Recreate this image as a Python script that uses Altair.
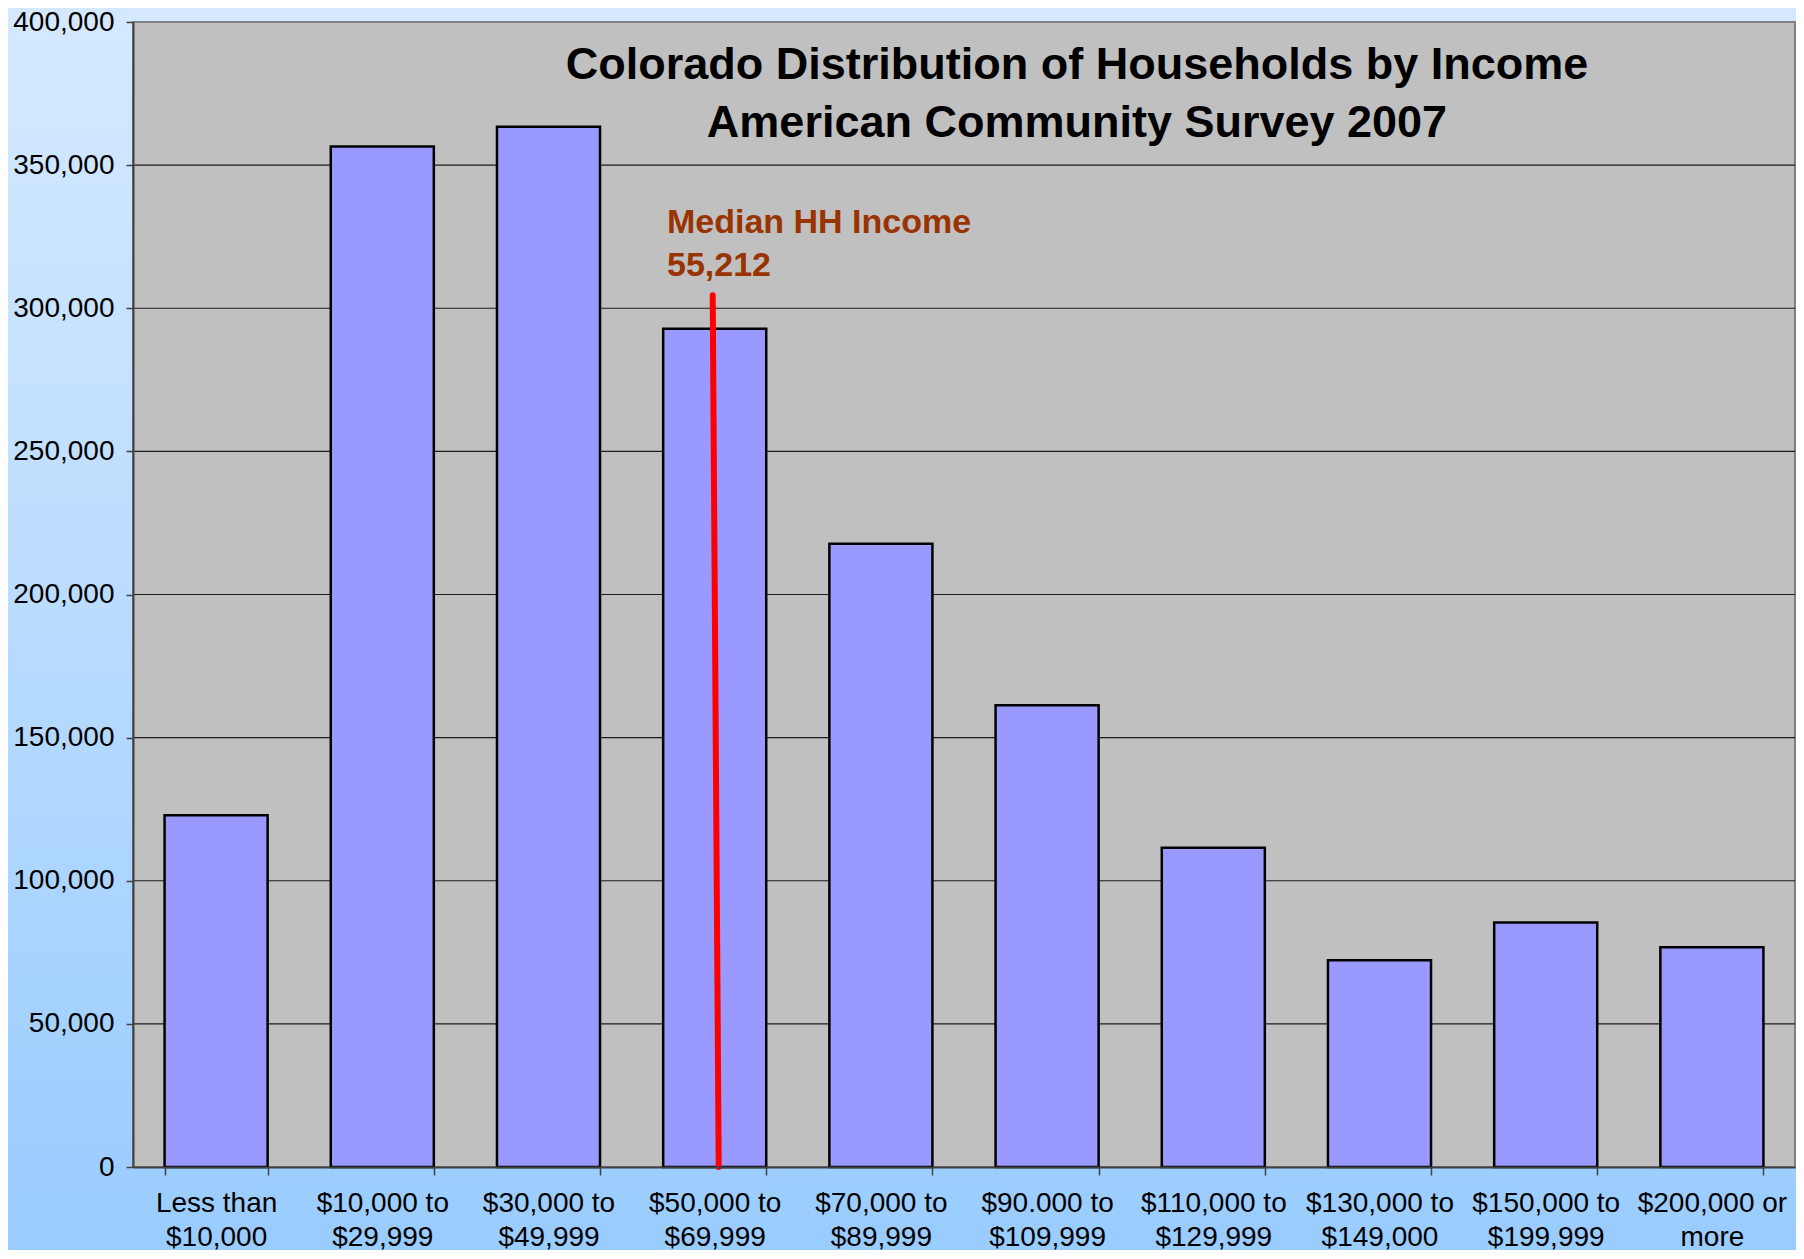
import altair as alt
import pandas as pd

# ---------------- data ----------------
LINE1 = ["Less than", "$10,000 to", "$30,000 to", "$50,000 to", "$70,000 to",
         "$90.000 to", "$110,000 to", "$130,000 to", "$150,000 to", "$200,000 or"]
LINE2 = ["$10,000", "$29,999", "$49,999", "$69,999", "$89,999",
         "$109,999", "$129,999", "$149,000", "$199,999", "more"]
HOUSEHOLDS = [122900, 356500, 363400, 292800, 217700, 161300, 111500, 72200, 85400, 76800]
Y_TICKS = [0, 50000, 100000, 150000, 200000, 250000, 300000, 350000, 400000]
GRID_LINES = [50000, 100000, 150000, 200000, 250000, 300000, 350000]
MEDIAN_INCOME = 55212
MEDIAN_BRACKET = 3          # index of the bracket containing the median
MEDIAN_LINE_TOP = 304500    # household-count height where the marker line stops
TITLE_LINES = ["Colorado Distribution of Households by Income",
               "American Community Survey 2007"]
MEDIAN_LABEL = ["Median HH Income", f"{MEDIAN_INCOME:,}"]

CATS = [a + "\n" + b for a, b in zip(LINE1, LINE2)]

bars_df = pd.DataFrame({"bracket": CATS, "households": HOUSEHOLDS})
grid_df = pd.DataFrame({"v": GRID_LINES})
median_df = pd.DataFrame({"bracket": [CATS[MEDIAN_BRACKET]],
                          "top": [MEDIAN_LINE_TOP], "bottom": [0]})
one_df = pd.DataFrame({"a": [1]})

# ---------------- layout ----------------
W, H = 1662, 1145
PAD = {"left": 125, "top": 14, "right": 1, "bottom": 83}
FONT = "Liberation Sans"

xscale = alt.Scale(domain=CATS, paddingInner=0.38, paddingOuter=0.19)
yscale = alt.Scale(domain=[0, 400000], nice=False)

x_axis = alt.Axis(
    title=None, labelAngle=0, labelExpr="split(datum.label, '\\n')",
    tickBand="extent", tickSize=8, tickColor="#404040", tickWidth=1.5,
    domainColor="#404040", domainWidth=2, grid=False,
    labelFont=FONT, labelFontSize=28, labelColor="black",
    labelLineHeight=34, labelPadding=14, labelOverlap=False, labelLimit=400,
    zindex=1,
)
y_axis = alt.Axis(
    title=None, values=Y_TICKS, labelExpr="format(datum.value, ',')", grid=False,
    tickSize=7, tickColor="#404040", tickWidth=1.5,
    domainColor="#404040", domainWidth=2,
    labelFont=FONT, labelFontSize=28, labelColor="black", labelPadding=12,
    labelOverlap=False, zindex=1,
)

# page background gradient
background = alt.Chart(one_df).mark_rect(
    fill=alt.Gradient(
        gradient="linear",
        stops=[alt.GradientStop(color="#d4e9ff", offset=0),
               alt.GradientStop(color="#c2e0ff", offset=0.35),
               alt.GradientStop(color="#99ccff", offset=1)],
        x1=0, x2=0, y1=0, y2=1,
    ),
    strokeWidth=0,
).encode(
    x=alt.value(-PAD["left"]), x2=alt.value(W + PAD["right"]),
    y=alt.value(-PAD["top"]), y2=alt.value(H + PAD["bottom"]),
)

# plot area
plot_area = alt.Chart(one_df).mark_rect(
    fill="#c0c0c0", stroke="#808080", strokeWidth=2
).encode(x=alt.value(0), x2=alt.value(W), y=alt.value(0), y2=alt.value(H))

grid = alt.Chart(grid_df).mark_rule(color="#000000", strokeWidth=1.2, opacity=0.85).encode(
    y=alt.Y("v:Q", scale=yscale, axis=y_axis)
)

bars = alt.Chart(bars_df).mark_bar(
    color="#9999ff", stroke="#000000", strokeWidth=2.5
).encode(
    x=alt.X("bracket:N", scale=xscale, sort=CATS, axis=x_axis),
    y=alt.Y("households:Q", scale=yscale, axis=y_axis),
)

median_line = alt.Chart(median_df).mark_rule(
    color="#ff0000", strokeWidth=6, strokeCap="round", xOffset=-2, x2Offset=4
).encode(
    x=alt.X("bracket:N", scale=xscale, sort=CATS, axis=x_axis),
    x2="bracket:N",
    y=alt.Y("top:Q", scale=yscale, axis=y_axis),
    y2="bottom:Q",
)

median_text = alt.Chart(one_df).mark_text(
    text=MEDIAN_LABEL, font=FONT, fontSize=34, fontWeight="bold",
    color="#993300", align="left", baseline="alphabetic", lineHeight=43,
).encode(x=alt.value(534), y=alt.value(211))

title_text = alt.Chart(one_df).mark_text(
    text=TITLE_LINES, font=FONT, fontSize=45, fontWeight="bold",
    color="#000000", align="center", baseline="alphabetic", lineHeight=58,
).encode(x=alt.value(944), y=alt.value(57))

chart = alt.layer(
    background, plot_area, grid, bars, median_line, median_text, title_text
).properties(
    width=W, height=H,
    autosize=alt.AutoSizeParams(type="none"),
    padding=PAD,
).configure_view(stroke=None)

chart.save("out.html", embed_options={"renderer": "svg", "actions": False})
